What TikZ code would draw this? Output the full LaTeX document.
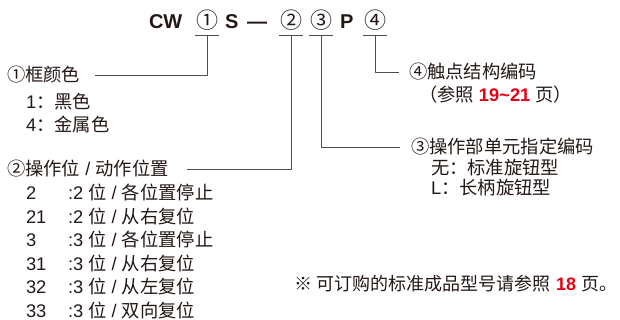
\documentclass[tikz,border=0pt]{standalone}
\usepackage{fontspec}
\setmainfont{Liberation Sans}
\newfontfamily\cjk{Noto Sans CJK SC}
\definecolor{txtgray}{HTML}{231815}
\definecolor{linegray}{HTML}{4D4D4D}
\definecolor{catred}{HTML}{E60012}
\newcommand{\zh}[1]{{\cjk #1}}
\newcommand{\redno}[1]{{\color{catred}\bfseries #1}}

\begin{document}
\begin{tikzpicture}[x=1pt,y=-1pt,line join=round,line cap=butt]
 \tikzset{every node/.style={inner sep=0pt,outer sep=0pt,text=txtgray,font=\fontsize{18.3}{20}\selectfont},
  txt/.style={anchor=base west},
  code/.style={anchor=base west,font=\fontsize{20}{22}\selectfont\bfseries},
  circ/.style={anchor=base,font=\fontsize{22}{22}\selectfont\cjk},
  conn/.style={draw=linegray,line width=0.9pt}}
 \useasboundingbox (0,0) rectangle (620,320);
 % model code
 \node[code] (cw) at (149,29) {CW};
 \node[circ] (c1) at (207,29) {①};
 \node[code] (s) at (225,29) {S};
 \node[code] (dash) at (247,29) {—};
 \node[circ] (c2) at (291,29) {②};
 \node[circ] (c3) at (321,29) {③};
 \node[code] (p) at (340,29) {P};
 \node[circ] (c4) at (375,29) {④};
 \foreach \c in {c1,c2,c3,c4} {
  \draw[conn] ([xshift=-12pt,yshift=-6pt]\c.base) -- ([xshift=12pt,yshift=-6pt]\c.base);
  \coordinate (u\c) at ([yshift=-6pt]\c.base);
 }
 % 1 frame colour
 \node[txt] (l1) at (7,82) {\zh{①框颜色}};
 \node[txt] (l1a) at (26,109) {1\zh{：黑色}};
 \node[txt] (l1b) at (26,132) {4\zh{：金属色}};
 % 2 positions
 \node[txt] (l2) at (7,176) {\zh{②操作位} / \zh{动作位置}};
 \foreach \n/\a/\b [count=\i from 0] in {2/2/各位置停止,21/2/从右复位,3/3/各位置停止,31/3/从右复位,32/3/从左复位,33/3/双向复位} {
  \node[txt] (k\n) at (26,199.5+23.5*\i) {\n};
  \node[txt] (d\n) at (68,199.5+23.5*\i) {:\a\ \zh{位} / \zh{\b}};
 }
 % 3 operator unit
 \node[txt] (l3) at (411,154) {\zh{③操作部单元指定编码}};
 \node[txt] (l3a) at (431,175) {\zh{无：标准旋钮型}};
 \node[txt] (l3b) at (431,195) {L\zh{：长柄旋钮型}};
 % 4 contacts
 \node[txt] (l4) at (409,79) {\zh{④触点结构编码}};
 \node[txt] (l4a) at (419,102) {\zh{（参照} \redno{19\char`~21} \zh{页）}};
 % note
 \node[txt,font=\fontsize{18}{20}\selectfont] (note) at (294,290) {\zh{※} \zh{可订购的标准成品型号请参照} \redno{18} \zh{页。}};
 % leaders
 \draw[conn] (uc1) |- ([xshift=15pt]l1.east);
 \draw[conn] (uc2) |- ([xshift=18pt]l2.east);
 \draw[conn] (uc3) |- ([xshift=-11pt]l3.west);
 \draw[conn] (uc4) |- ([xshift=-10pt]l4.west);
\end{tikzpicture}
\end{document}
